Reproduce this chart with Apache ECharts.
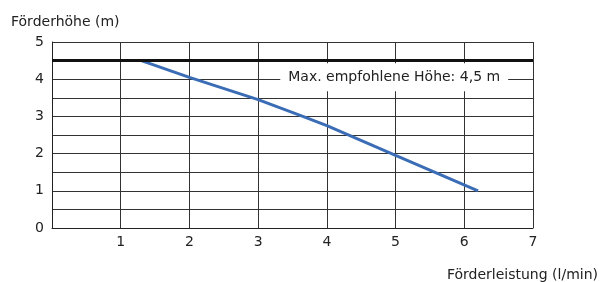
<!DOCTYPE html>
<html>
<head>
<meta charset="utf-8">
<script src="https://cdn.jsdelivr.net/npm/echarts@6/dist/echarts.min.js"></script>
<style>
  html, body { margin: 0; padding: 0; background: #fff; }
  #chart { width: 612px; height: 282px; }
</style>
</head>
<body>
<div id="chart"></div>
<script>
// Pumpenkennlinie
var flow = [1.3, 2, 3, 3.65, 4, 5, 6.2];          // l/min
var head = [4.5, 4.05, 3.45, 3.0, 2.75, 1.95, 1.0]; // m
var maxHead = 4.5;
var maxLabel = 'Max. empfohlene Höhe: 4,5 m';
var xTicks = [1, 2, 3, 4, 5, 6, 7];
var yTicks = [0, 1, 2, 3, 4, 5];

var pts = [];
for (var i = 0; i < flow.length; i++) {
  pts.push([flow[i], head[i]]);
}

var chart = echarts.init(document.getElementById('chart'));
var fnt = 'DejaVu Sans';
var option = {
  animation: false,
  textStyle: { fontFamily: fnt },
  grid: { left: 52, right: 79, top: 42, bottom: 53 },
  xAxis: {
    type: 'value',
    min: 0, max: 7, interval: 1,
    name: 'Förderleistung (l/min)',
    nameLocation: 'end',
    nameGap: 0,
    nameTextStyle: { color: '#222', fontSize: 14, align: 'right', verticalAlign: 'top', padding: [40, -65, 0, 0] },
    axisLine: { lineStyle: { color: '#222', width: 1 } },
    axisTick: { show: false },
    axisLabel: {
      color: '#222', fontSize: 14, margin: 7,
      formatter: function (v) { return xTicks.indexOf(v) >= 0 ? String(v) : ''; }
    },
    splitLine: { show: true, lineStyle: { color: '#333', width: 1 } }
  },
  yAxis: {
    type: 'value',
    min: 0, max: 5, interval: 0.5,
    name: 'Förderhöhe (m)',
    nameLocation: 'end',
    nameGap: 13,
    nameTextStyle: { color: '#222', fontSize: 14, align: 'left', padding: [0, 0, 0, -41] },
    axisLine: { show: true, lineStyle: { color: '#222', width: 1 } },
    axisTick: { show: false },
    axisLabel: {
      color: '#222', fontSize: 14, margin: 8,
      formatter: function (v) { return yTicks.indexOf(v) >= 0 ? String(v) : ''; }
    },
    splitLine: { show: true, lineStyle: { color: '#333', width: 1 } }
  },
  series: [{
    type: 'line',
    data: pts,
    showSymbol: false,
    lineStyle: { color: '#3a6db5', width: 3 },
    z: 3,
    markLine: {
      silent: true,
      symbol: 'none',
      label: { show: false },
      lineStyle: { color: '#111', width: 3, type: 'solid' },
      data: [{ yAxis: maxHead }]
    }
  }]
};
chart.setOption(option);

var p = chart.convertToPixel({ gridIndex: 0 }, [4.98, 4.05]);
chart.setOption({
  graphic: [{
    type: 'text',
    x: p[0], y: p[1],
    z: 10,
    style: {
      text: maxLabel,
      fontFamily: fnt,
      fontSize: 14,
      fill: '#222',
      align: 'center',
      verticalAlign: 'middle',
      backgroundColor: '#fff',
      padding: [7, 8]
    }
  }]
});
</script>
</body>
</html>
